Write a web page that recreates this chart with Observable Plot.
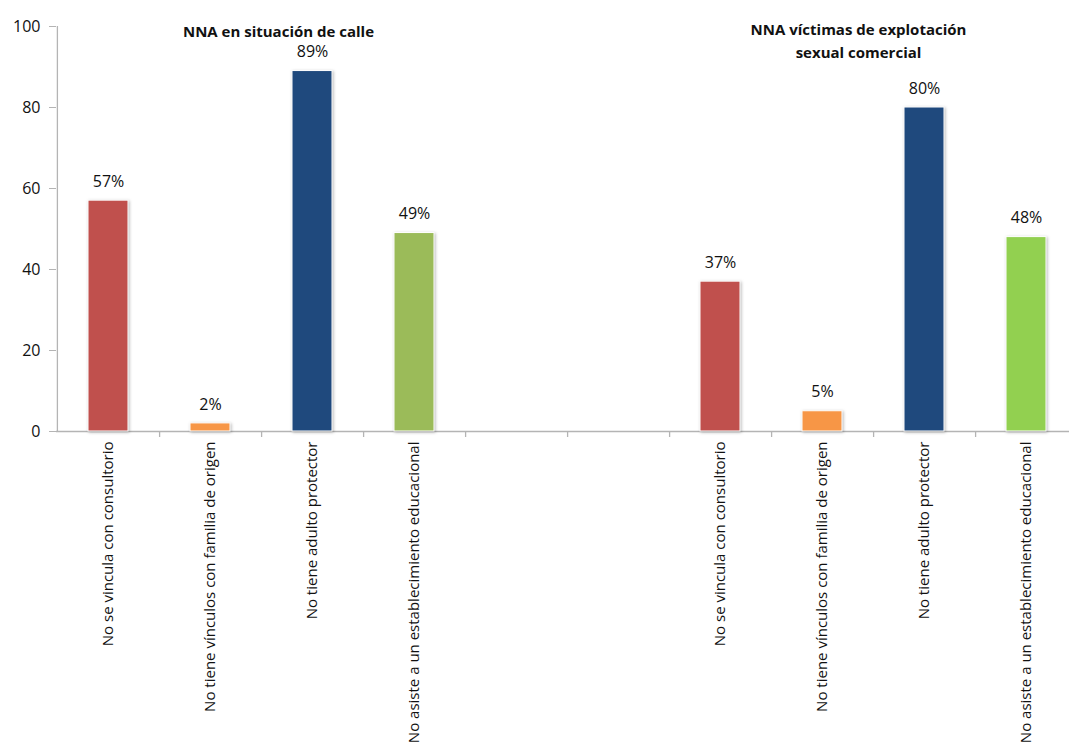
<!DOCTYPE html>
<html>
<head>
<meta charset="utf-8">
<script src="https://cdn.jsdelivr.net/npm/d3@7"></script>
<script src="https://cdn.jsdelivr.net/npm/@observablehq/plot@0.6"></script>
<style>
  html, body { margin: 0; padding: 0; background: #fff; }
  #chart svg { overflow: hidden; }
  #chart .bars rect { filter: drop-shadow(1.5px 1px 1.5px rgba(0,0,0,0.28)); }
</style>
</head>
<body>
<div id="chart"></div>
<script>
// ---- data ----
const categories = [
  "No se vincula con consultorio",
  "No tiene vínculos con familia de origen",
  "No tiene adulto protector",
  "No asiste a un establecimiento educacional"
];
const groupTitles = ["NNA en situación de calle", "NNA víctimas de explotación\nsexual comercial"];
const calleValues = [57, 2, 89, 49];
const esciValues = [37, 5, 80, 48];
const yTicks = [0, 20, 40, 60, 80, 100];

// palettes
const calleColors = ["#C0504D", "#F79646", "#1F497D", "#9BBB59"];
const esciColors = ["#C0504D", "#F79646", "#1F497D", "#92D050"];

// ---- build table ----
const rows = [];
categories.forEach((c, i) => rows.push({key: "a" + i, label: c, value: calleValues[i], color: calleColors[i]}));
categories.forEach((c, i) => rows.push({key: "b" + i, label: c, value: esciValues[i], color: esciColors[i]}));
const domain = ["a0", "a1", "a2", "a3", "gap1", "gap2", "b0", "b1", "b2", "b3"];
const labelOf = new Map(rows.map(d => [d.key, d.label]));

// ---- layout ----
const W = 1069, H = 743;
const mL = 56, mR = -9, mT = 26, mB = 312;
const step = (W - mL - mR) / domain.length;
const FONT = "'Open Sans', 'DejaVu Sans', sans-serif";
const axisGray = "#B4B4B4";
const textColor = "#111";

const chart = Plot.plot({
  width: W,
  height: H,
  marginLeft: mL,
  marginRight: mR,
  marginTop: mT,
  marginBottom: mB,
  style: {fontFamily: FONT, fontSize: "15px", color: textColor, background: "#fff"},
  x: {domain, paddingInner: 0.61, paddingOuter: 0.305, axis: null},
  y: {domain: [0, 100], axis: null},
  marks: [
    // x axis baseline
    Plot.ruleY([0], {stroke: axisGray, strokeWidth: 1.3}),
    // y axis line (at left boundary of first category)
    Plot.ruleX([domain[0]], {x: d => d, y1: 0, y2: 100, dx: -step / 2, stroke: axisGray, strokeWidth: 1.3}),
    // category boundary ticks
    Plot.ruleX(domain, {x: d => d, y1: 0, y2: 0, insetBottom: -6, dx: step / 2, stroke: axisGray, strokeWidth: 1.3}),
    // y ticks
    Plot.axisY({ticks: yTicks, tickSize: 7, tickPadding: 9, stroke: axisGray, fill: textColor, fontSize: 16, label: null}),
    // bars
    Plot.barY(rows, {x: "key", y: "value", fill: "color", stroke: "#fff", strokeWidth: 1, className: "bars"}),
    // value labels
    Plot.text(rows, {x: "key", y: "value", text: d => d.value + "%", dy: -19, fontSize: 16, fill: textColor}),
    // x tick labels
    Plot.axisX({tickSize: 0, tickPadding: 10, tickRotate: -90, tickFormat: k => labelOf.get(k) || "", fontSize: 15, fill: textColor, label: null}),
    // group titles
    Plot.text([groupTitles[0]], {x: () => "a2", y: () => 100, text: d => d, dx: -34, dy: 6, fontWeight: "bold", fontSize: 15, fill: textColor}),
    Plot.text([groupTitles[1]], {x: () => "b2", y: () => 100, text: d => d, dx: -66, dy: 13, lineHeight: 1.52, fontWeight: "bold", fontSize: 15, fill: textColor})
  ]
});
document.getElementById("chart").appendChild(chart);
</script>
</body>
</html>
